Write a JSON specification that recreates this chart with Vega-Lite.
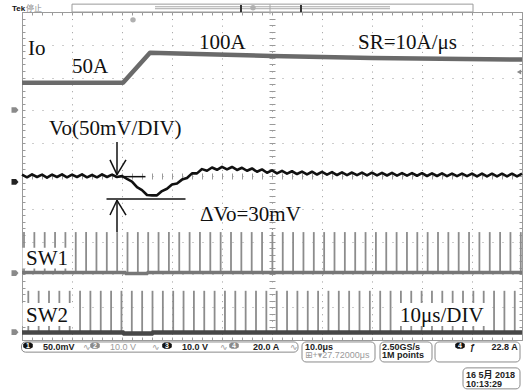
{
"$schema": "https://vega.github.io/schema/vega-lite/v6.json",
"width": 500,
"height": 328,
"autosize": {"type": "none"},
"padding": {"left": 22, "top": 12, "right": 5, "bottom": 50},
"background": "white",
"config": {"view": {"stroke": "#9a9a9a", "strokeWidth": 1}},
"datasets": {
"io": [{"t":0,"v":2.84},{"t":20.2,"v":2.84},{"t":25.6,"v":3.76},{"t":35,"v":3.72},{"t":50,"v":3.66},{"t":70,"v":3.6},{"t":100,"v":3.55}],
"vo": [{"t":0,"v":0.04},{"t":1,"v":-0.04},{"t":2,"v":0.05},{"t":3,"v":-0.03},{"t":4,"v":0.04},{"t":5,"v":-0.05},{"t":6,"v":0.04},{"t":7,"v":-0.03},{"t":8,"v":0.05},{"t":9,"v":-0.04},{"t":10,"v":0.04},{"t":11,"v":-0.03},{"t":12,"v":0.05},{"t":13,"v":-0.04},{"t":14,"v":0.03},{"t":15,"v":-0.04},{"t":16,"v":0.05},{"t":17,"v":-0.03},{"t":18,"v":0.04},{"t":19,"v":-0.03},{"t":20,"v":0.0},{"t":21,"v":-0.09},{"t":22,"v":-0.17},{"t":23,"v":-0.34},{"t":24,"v":-0.43},{"t":25,"v":-0.58},{"t":26,"v":-0.59},{"t":27,"v":-0.59},{"t":28,"v":-0.46},{"t":29,"v":-0.39},{"t":30,"v":-0.26},{"t":31,"v":-0.23},{"t":32,"v":-0.11},{"t":33,"v":-0.06},{"t":34,"v":0.08},{"t":35,"v":0.08},{"t":36,"v":0.21},{"t":37,"v":0.16},{"t":38,"v":0.26},{"t":39,"v":0.19},{"t":40,"v":0.28},{"t":41,"v":0.2},{"t":42,"v":0.275},{"t":43,"v":0.185},{"t":44,"v":0.25},{"t":45,"v":0.16},{"t":46,"v":0.23},{"t":47,"v":0.13},{"t":48,"v":0.2},{"t":49,"v":0.1},{"t":50,"v":0.17},{"t":51,"v":0.08},{"t":52,"v":0.155},{"t":53,"v":0.07},{"t":54,"v":0.145},{"t":55,"v":0.06},{"t":56,"v":0.135},{"t":57,"v":0.05},{"t":58,"v":0.13},{"t":59,"v":0.045},{"t":60,"v":0.125},{"t":61,"v":0.04},{"t":62,"v":0.12},{"t":63,"v":0.03},{"t":64,"v":0.11},{"t":65,"v":0.028},{"t":66,"v":0.106},{"t":67,"v":0.024},{"t":68,"v":0.102},{"t":69,"v":0.02},{"t":70,"v":0.1},{"t":71,"v":0.018},{"t":72,"v":0.096},{"t":73,"v":0.015},{"t":74,"v":0.094},{"t":75,"v":0.012},{"t":76,"v":0.09},{"t":77,"v":0.01},{"t":78,"v":0.09},{"t":79,"v":0.008},{"t":80,"v":0.085},{"t":81,"v":0.0},{"t":82,"v":0.08},{"t":83,"v":0.0},{"t":84,"v":0.08},{"t":85,"v":-0.005},{"t":86,"v":0.075},{"t":87,"v":-0.005},{"t":88,"v":0.075},{"t":89,"v":-0.005},{"t":90,"v":0.075},{"t":91,"v":-0.01},{"t":92,"v":0.075},{"t":93,"v":-0.01},{"t":94,"v":0.07},{"t":95,"v":-0.01},{"t":96,"v":0.07},{"t":97,"v":-0.01},{"t":98,"v":0.07},{"t":99,"v":-0.01},{"t":100,"v":0.07}],
"sw1": [{"t":0.4},{"t":2.47},{"t":4.54},{"t":6.61},{"t":8.68},{"t":10.75},{"t":12.82},{"t":14.89},{"t":16.96},{"t":19.03},{"t":21.1},{"t":23.17},{"t":25.24},{"t":27.31},{"t":29.38},{"t":31.45},{"t":33.52},{"t":35.59},{"t":37.66},{"t":39.73},{"t":41.8},{"t":43.87},{"t":45.94},{"t":48.01},{"t":50.08},{"t":52.15},{"t":54.22},{"t":56.29},{"t":58.36},{"t":60.43},{"t":62.5},{"t":64.57},{"t":66.64},{"t":68.71},{"t":70.78},{"t":72.85},{"t":74.92},{"t":76.99},{"t":79.06},{"t":81.13},{"t":83.2},{"t":85.27},{"t":87.34},{"t":89.41},{"t":91.48},{"t":93.55},{"t":95.62},{"t":97.69},{"t":99.76}],
"sw2": [{"t":1.26},{"t":3.33},{"t":5.4},{"t":7.47},{"t":9.54},{"t":11.61},{"t":13.68},{"t":15.75},{"t":17.82},{"t":19.89},{"t":21.96},{"t":24.03},{"t":26.1},{"t":28.17},{"t":30.24},{"t":32.31},{"t":34.38},{"t":36.45},{"t":38.52},{"t":40.59},{"t":42.66},{"t":44.73},{"t":46.8},{"t":48.87},{"t":50.94},{"t":53.01},{"t":55.08},{"t":57.15},{"t":59.22},{"t":61.29},{"t":63.36},{"t":65.43},{"t":67.5},{"t":69.57},{"t":71.64},{"t":73.71},{"t":75.78},{"t":77.85},{"t":79.92},{"t":81.99},{"t":84.06},{"t":86.13},{"t":88.2},{"t":90.27},{"t":92.34},{"t":94.41},{"t":96.48},{"t":98.55}],
"sw1base": [{"t":0,"v":-2.94},{"t":20.6,"v":-2.94},{"t":20.8,"v":-2.975},{"t":25,"v":-2.975},{"t":25.2,"v":-2.94},{"t":100,"v":-2.94}],
"sw2base": [{"t":0,"v":-4.77},{"t":20.2,"v":-4.77},{"t":20.4,"v":-4.805},{"t":26,"v":-4.805},{"t":26.2,"v":-4.77},{"t":100,"v":-4.77}],
"boxes": [{"t":0.1,"t2":9.8,"v":-2.19,"v2":-2.82},{"t":0.1,"t2":10.2,"v":-3.87,"v2":-4.57},{"t":74.2,"t2":93,"v":-3.87,"v2":-4.57}],
"arrows": [{"t":19,"v":1.04,"t2":19,"v2":0.03},{"t":17.6,"v":0.49,"t2":19,"v2":0.04},{"t":20.8,"v":0.49,"t2":19,"v2":0.04},{"t":18.6,"v":-0.02,"t2":24.7,"v2":-0.02},{"t":16.9,"v":-0.7,"t2":32.7,"v2":-0.7},{"t":19,"v":-0.73,"t2":19,"v2":-1.71},{"t":17.6,"v":-1.19,"t2":19,"v2":-0.74},{"t":20.8,"v":-1.19,"t2":19,"v2":-0.74}],
"labels": [{"t":1.2,"v":3.69,"label":"Io"},{"t":10,"v":3.14,"label":"50A"},{"t":35.4,"v":3.87,"label":"100A"},{"t":67.2,"v":3.87,"label":"SR=10A/μs"},{"t":5.4,"v":1.25,"label":"Vo(50mV/DIV)"},{"t":35.6,"v":-1.37,"label":"ΔVo=30mV"},{"t":0.8,"v":-2.71,"label":"SW1"},{"t":0.8,"v":-4.45,"label":"SW2"},{"t":75.6,"v":-4.45,"label":"10μs/DIV"}],
"sbox": [{"t":-0.1,"t2":55.2,"v":-5.06,"v2":-5.37},{"t":56,"t2":70.6,"v":-5.06,"v2":-5.67},{"t":71.6,"t2":82,"v":-5.06,"v2":-5.67},{"t":82.6,"t2":99.6,"v":-5.06,"v2":-5.67},{"t":88.2,"t2":99.6,"v":-5.85,"v2":-6.49}],
"stxt": [{"t":4.2,"v":-5.3,"label":"50.0mV"},{"t":32,"v":-5.3,"label":"10.0 V"},{"t":46.2,"v":-5.3,"label":"20.0 A"},{"t":56.6,"v":-5.3,"label":"10.0μs"},{"t":72,"v":-5.3,"label":"2.50GS/s"},{"t":72,"v":-5.56,"label":"1M points"},{"t":89.6,"v":-5.3,"label":"ƒ"},{"t":93.9,"v":-5.3,"label":"22.8 A"},{"t":88.8,"v":-6.16,"label":"16 5月 2018"},{"t":88.8,"v":-6.43,"label":"10:13:29"}],
"stxtgray": [{"t":17.6,"v":-5.3,"label":"10.0 V"},{"t":56.6,"v":-5.56,"label":"⊞+▾27.72000μs"},{"t":12.2,"v":-5.3,"label":"∿"},{"t":26,"v":-5.3,"label":"∿"},{"t":39.6,"v":-5.3,"label":"∿"},{"t":53.6,"v":-5.3,"label":"∿"}],
"badgeblack": [{"t":1.2,"v":-5.17,"label":"1"},{"t":29,"v":-5.17,"label":"3"},{"t":87.6,"v":-5.17,"label":"4"}],
"badgegray": [{"t":14.6,"v":-5.17,"label":"2"},{"t":42.4,"v":-5.17,"label":"4"}],
"topblack": [{"t":-2,"v":5.03,"label":"Tek"}],
"topgray": [{"t":0.8,"v":5.03,"label":"停止"}],
"barrect": [{"t":10,"t2":90.2,"v":5.24,"v2":5.0}],
"barlines": [{"t":26.6,"t2":73.6,"v":5.16,"v2":5.16},{"t":26.6,"t2":73.6,"v":5.1,"v2":5.1},{"t":49.6,"t2":49.6,"v":5.24,"v2":4.93}],
"brackets": [{"t":43.8,"t2":43.8,"v":5.21,"v2":5.0},{"t":55.8,"t2":55.8,"v":5.21,"v2":5.0}],
"markgray": [{"t":-1.4,"v":2.01},{"t":-1.4,"v":-2.96},{"t":-1.4,"v":-4.76}],
"markblack": [{"t":-1.4,"v":-0.18}],
"trig": [{"t":22.2,"v":4.76},{"t":46.2,"v":5.13}],
"triglevel": [{"t":99.4,"v":3.17}]
},
"layer": [
{"data":{"name":"io"},"mark":{"type":"line","color":"#6a6a6a","strokeWidth":4.5,"strokeJoin":"round"},
 "encoding":{"x":{"field":"t","type":"quantitative","scale":{"domain":[0,100],"nice":false,"zero":false},"axis":{"orient":"bottom","values":[0,10,20,30,40,50,60,70,80,90,100],"grid":true,"gridColor":"#9a9a9a","gridDash":[1,5.56],"gridWidth":1,"domain":false,"ticks":false,"labels":false,"title":null}},
 "y":{"field":"v","type":"quantitative","scale":{"domain":[-5,5],"nice":false,"zero":false},"axis":{"orient":"left","values":[-5,-4,-3,-2,-1,0,1,2,3,4,5],"grid":true,"gridColor":"#9a9a9a","gridDash":[1,9],"gridWidth":1,"domain":false,"ticks":false,"labels":false,"title":null}}}},
{"data":{"name":"sw1"},"mark":{"type":"rule","color":"#8c8c8c","strokeWidth":1.8},
 "encoding":{"x":{"field":"t","type":"quantitative","scale":{"domain":[0,100],"nice":false,"zero":false},"axis":null},
 "y":{"datum":-2.94,"type":"quantitative","scale":{"domain":[-5,5],"nice":false,"zero":false},"axis":null},"y2":{"datum":-1.71}}},
{"data":{"name":"sw2"},"mark":{"type":"rule","color":"#8c8c8c","strokeWidth":1.8},
 "encoding":{"x":{"field":"t","type":"quantitative","scale":{"domain":[0,100],"nice":false,"zero":false},"axis":null},
 "y":{"datum":-4.77,"type":"quantitative","scale":{"domain":[-5,5],"nice":false,"zero":false},"axis":null},"y2":{"datum":-3.5}}},
{"data":{"name":"sw1base"},"mark":{"type":"line","color":"#777777","strokeWidth":3.5},
 "encoding":{"x":{"field":"t","type":"quantitative","scale":{"domain":[0,100],"nice":false,"zero":false},"axis":{"orient":"top","offset":-3,"values":[0,2,4,6,8,10,12,14,16,18,20,22,24,26,28,30,32,34,36,38,40,42,44,46,48,50,52,54,56,58,60,62,64,66,68,70,72,74,76,78,80,82,84,86,88,90,92,94,96,98,100],"tickSize":3,"tickColor":"#9a9a9a","domain":false,"labels":false,"grid":false,"title":null}},
 "y":{"field":"v","type":"quantitative","scale":{"domain":[-5,5],"nice":false,"zero":false},"axis":{"orient":"left","offset":-3,"values":[-5,-4.8,-4.6,-4.4,-4.2,-4,-3.8,-3.6,-3.4,-3.2,-3,-2.8,-2.6,-2.4,-2.2,-2,-1.8,-1.6,-1.4,-1.2,-1,-0.8,-0.6,-0.4,-0.2,0,0.2,0.4,0.6,0.8,1,1.2,1.4,1.6,1.8,2,2.2,2.4,2.6,2.8,3,3.2,3.4,3.6,3.8,4,4.2,4.4,4.6,4.8,5],"tickSize":3,"tickColor":"#9a9a9a","domain":false,"labels":false,"grid":false,"title":null}}}},
{"data":{"name":"sw2base"},"mark":{"type":"line","color":"#474747","strokeWidth":4.5},
 "encoding":{"x":{"field":"t","type":"quantitative","scale":{"domain":[0,100],"nice":false,"zero":false},"axis":{"orient":"bottom","offset":-3,"values":[0,2,4,6,8,10,12,14,16,18,20,22,24,26,28,30,32,34,36,38,40,42,44,46,48,50,52,54,56,58,60,62,64,66,68,70,72,74,76,78,80,82,84,86,88,90,92,94,96,98,100],"tickSize":3,"tickColor":"#9a9a9a","domain":false,"labels":false,"grid":false,"title":null}},
 "y":{"field":"v","type":"quantitative","scale":{"domain":[-5,5],"nice":false,"zero":false},"axis":{"orient":"right","offset":-3,"values":[-5,-4.8,-4.6,-4.4,-4.2,-4,-3.8,-3.6,-3.4,-3.2,-3,-2.8,-2.6,-2.4,-2.2,-2,-1.8,-1.6,-1.4,-1.2,-1,-0.8,-0.6,-0.4,-0.2,0,0.2,0.4,0.6,0.8,1,1.2,1.4,1.6,1.8,2,2.2,2.4,2.6,2.8,3,3.2,3.4,3.6,3.8,4,4.2,4.4,4.6,4.8,5],"tickSize":3,"tickColor":"#9a9a9a","domain":false,"labels":false,"grid":false,"title":null}}}},
{"data":{"name":"vo"},"mark":{"type":"line","color":"#111111","strokeWidth":2.6,"strokeJoin":"round"},
 "encoding":{"x":{"field":"t","type":"quantitative","scale":{"domain":[0,100],"nice":false,"zero":false},"axis":{"orient":"bottom","offset":-167,"values":[0,2,4,6,8,10,12,14,16,18,20,22,24,26,28,30,32,34,36,38,40,42,44,46,48,50,52,54,56,58,60,62,64,66,68,70,72,74,76,78,80,82,84,86,88,90,92,94,96,98,100],"tickSize":6,"tickColor":"#9a9a9a","domain":false,"labels":false,"grid":false,"title":null}},
 "y":{"field":"v","type":"quantitative","scale":{"domain":[-5,5],"nice":false,"zero":false},"axis":{"orient":"left","offset":-253,"values":[-5,-4.8,-4.6,-4.4,-4.2,-4,-3.8,-3.6,-3.4,-3.2,-3,-2.8,-2.6,-2.4,-2.2,-2,-1.8,-1.6,-1.4,-1.2,-1,-0.8,-0.6,-0.4,-0.2,0,0.2,0.4,0.6,0.8,1,1.2,1.4,1.6,1.8,2,2.2,2.4,2.6,2.8,3,3.2,3.4,3.6,3.8,4,4.2,4.4,4.6,4.8,5],"tickSize":6,"tickColor":"#9a9a9a","domain":false,"labels":false,"grid":false,"title":null}}}},
{"data":{"name":"boxes"},"mark":{"type":"rect","fill":"white"},
 "encoding":{"x":{"field":"t","type":"quantitative","scale":{"domain":[0,100],"nice":false,"zero":false},"axis":null},"x2":{"field":"t2"},
 "y":{"field":"v","type":"quantitative","scale":{"domain":[-5,5],"nice":false,"zero":false},"axis":null},"y2":{"field":"v2"}}},
{"data":{"name":"arrows"},"mark":{"type":"rule","color":"#111111","strokeWidth":1.5},
 "encoding":{"x":{"field":"t","type":"quantitative","scale":{"domain":[0,100],"nice":false,"zero":false},"axis":null},"x2":{"field":"t2"},
 "y":{"field":"v","type":"quantitative","scale":{"domain":[-5,5],"nice":false,"zero":false},"axis":null},"y2":{"field":"v2"}}},
{"data":{"name":"labels"},"mark":{"type":"text","font":"Liberation Serif","fontSize":21,"color":"#111111","align":"left","baseline":"alphabetic"},
 "encoding":{"x":{"field":"t","type":"quantitative","scale":{"domain":[0,100],"nice":false,"zero":false},"axis":null},
 "y":{"field":"v","type":"quantitative","scale":{"domain":[-5,5],"nice":false,"zero":false},"axis":null},"text":{"field":"label"}}},
{"data":{"name":"sbox"},"mark":{"type":"rect","fill":"white","stroke":"#8a8a8a","strokeWidth":1,"cornerRadius":4},
 "encoding":{"x":{"field":"t","type":"quantitative","scale":{"domain":[0,100],"nice":false,"zero":false},"axis":null},"x2":{"field":"t2"},
 "y":{"field":"v","type":"quantitative","scale":{"domain":[-5,5],"nice":false,"zero":false},"axis":null},"y2":{"field":"v2"}}},
{"data":{"name":"stxt"},"mark":{"type":"text","font":"Liberation Sans, Noto Sans CJK JP","fontSize":9,"fontWeight":"bold","color":"#222222","align":"left","baseline":"alphabetic"},
 "encoding":{"x":{"field":"t","type":"quantitative","scale":{"domain":[0,100],"nice":false,"zero":false},"axis":null},
 "y":{"field":"v","type":"quantitative","scale":{"domain":[-5,5],"nice":false,"zero":false},"axis":null},"text":{"field":"label"}}},
{"data":{"name":"stxtgray"},"mark":{"type":"text","font":"Liberation Sans, DejaVu Sans","fontSize":9,"color":"#9a9a9a","align":"left","baseline":"alphabetic"},
 "encoding":{"x":{"field":"t","type":"quantitative","scale":{"domain":[0,100],"nice":false,"zero":false},"axis":null},
 "y":{"field":"v","type":"quantitative","scale":{"domain":[-5,5],"nice":false,"zero":false},"axis":null},"text":{"field":"label"}}},
{"data":{"name":"badgeblack"},"mark":{"type":"point","filled":true,"color":"#111111","opacity":1,"size":64,"shape":"M-0.6,-0.8L0.6,-0.8L1.2,-0.4L1.2,0.4L0.6,0.8L-0.6,0.8L-1.2,0.4L-1.2,-0.4Z"},
 "encoding":{"x":{"field":"t","type":"quantitative","scale":{"domain":[0,100],"nice":false,"zero":false},"axis":null},
 "y":{"field":"v","type":"quantitative","scale":{"domain":[-5,5],"nice":false,"zero":false},"axis":null}}},
{"data":{"name":"badgegray"},"mark":{"type":"point","filled":true,"color":"#8a8a8a","opacity":1,"size":64,"shape":"M-0.6,-0.8L0.6,-0.8L1.2,-0.4L1.2,0.4L0.6,0.8L-0.6,0.8L-1.2,0.4L-1.2,-0.4Z"},
 "encoding":{"x":{"field":"t","type":"quantitative","scale":{"domain":[0,100],"nice":false,"zero":false},"axis":null},
 "y":{"field":"v","type":"quantitative","scale":{"domain":[-5,5],"nice":false,"zero":false},"axis":null}}},
{"data":{"name":"badgeblack"},"mark":{"type":"text","font":"Liberation Sans","fontSize":7,"fontWeight":"bold","color":"white","align":"center","baseline":"middle"},
 "encoding":{"x":{"field":"t","type":"quantitative","scale":{"domain":[0,100],"nice":false,"zero":false},"axis":null},
 "y":{"field":"v","type":"quantitative","scale":{"domain":[-5,5],"nice":false,"zero":false},"axis":null},"text":{"field":"label"}}},
{"data":{"name":"badgegray"},"mark":{"type":"text","font":"Liberation Sans","fontSize":7,"fontWeight":"bold","color":"white","align":"center","baseline":"middle"},
 "encoding":{"x":{"field":"t","type":"quantitative","scale":{"domain":[0,100],"nice":false,"zero":false},"axis":null},
 "y":{"field":"v","type":"quantitative","scale":{"domain":[-5,5],"nice":false,"zero":false},"axis":null},"text":{"field":"label"}}},
{"data":{"name":"topblack"},"mark":{"type":"text","font":"Liberation Sans","fontSize":8,"fontWeight":"bold","color":"#111111","align":"left","baseline":"alphabetic"},
 "encoding":{"x":{"field":"t","type":"quantitative","scale":{"domain":[0,100],"nice":false,"zero":false},"axis":null},
 "y":{"field":"v","type":"quantitative","scale":{"domain":[-5,5],"nice":false,"zero":false},"axis":null},"text":{"field":"label"}}},
{"data":{"name":"topgray"},"mark":{"type":"text","font":"Noto Sans CJK JP","fontSize":8,"color":"#8a8a8a","align":"left","baseline":"alphabetic"},
 "encoding":{"x":{"field":"t","type":"quantitative","scale":{"domain":[0,100],"nice":false,"zero":false},"axis":null},
 "y":{"field":"v","type":"quantitative","scale":{"domain":[-5,5],"nice":false,"zero":false},"axis":null},"text":{"field":"label"}}},
{"data":{"name":"barrect"},"mark":{"type":"rect","fill":"white","stroke":"#9a9a9a","strokeWidth":1},
 "encoding":{"x":{"field":"t","type":"quantitative","scale":{"domain":[0,100],"nice":false,"zero":false},"axis":null},"x2":{"field":"t2"},
 "y":{"field":"v","type":"quantitative","scale":{"domain":[-5,5],"nice":false,"zero":false},"axis":null},"y2":{"field":"v2"}}},
{"data":{"name":"barlines"},"mark":{"type":"rule","color":"#a8a8a8","strokeWidth":1},
 "encoding":{"x":{"field":"t","type":"quantitative","scale":{"domain":[0,100],"nice":false,"zero":false},"axis":null},"x2":{"field":"t2"},
 "y":{"field":"v","type":"quantitative","scale":{"domain":[-5,5],"nice":false,"zero":false},"axis":null},"y2":{"field":"v2"}}},
{"data":{"name":"brackets"},"mark":{"type":"rule","color":"#333333","strokeWidth":2},
 "encoding":{"x":{"field":"t","type":"quantitative","scale":{"domain":[0,100],"nice":false,"zero":false},"axis":null},"x2":{"field":"t2"},
 "y":{"field":"v","type":"quantitative","scale":{"domain":[-5,5],"nice":false,"zero":false},"axis":null},"y2":{"field":"v2"}}},
{"data":{"name":"markgray"},"mark":{"type":"point","filled":true,"color":"#8a8a8a","opacity":1,"size":49,"shape":"M-1,-0.8L0.3,-0.8L1,0L0.3,0.8L-1,0.8Z"},
 "encoding":{"x":{"field":"t","type":"quantitative","scale":{"domain":[0,100],"nice":false,"zero":false},"axis":null},
 "y":{"field":"v","type":"quantitative","scale":{"domain":[-5,5],"nice":false,"zero":false},"axis":null}}},
{"data":{"name":"markblack"},"mark":{"type":"point","filled":true,"color":"#222222","opacity":1,"size":49,"shape":"M-1,-0.8L0.3,-0.8L1,0L0.3,0.8L-1,0.8Z"},
 "encoding":{"x":{"field":"t","type":"quantitative","scale":{"domain":[0,100],"nice":false,"zero":false},"axis":null},
 "y":{"field":"v","type":"quantitative","scale":{"domain":[-5,5],"nice":false,"zero":false},"axis":null}}},
{"data":{"name":"trig"},"mark":{"type":"point","filled":true,"color":"#b0b0b0","opacity":1,"size":30,"shape":"circle"},
 "encoding":{"x":{"field":"t","type":"quantitative","scale":{"domain":[0,100],"nice":false,"zero":false},"axis":null},
 "y":{"field":"v","type":"quantitative","scale":{"domain":[-5,5],"nice":false,"zero":false},"axis":null}}},
{"data":{"name":"triglevel"},"mark":{"type":"point","filled":true,"color":"#8a8a8a","opacity":1,"size":25,"shape":"triangle-left"},
 "encoding":{"x":{"field":"t","type":"quantitative","scale":{"domain":[0,100],"nice":false,"zero":false},"axis":null},
 "y":{"field":"v","type":"quantitative","scale":{"domain":[-5,5],"nice":false,"zero":false},"axis":null}}}
],
"resolve": {"axis": {"x": "independent", "y": "independent"}}
}
